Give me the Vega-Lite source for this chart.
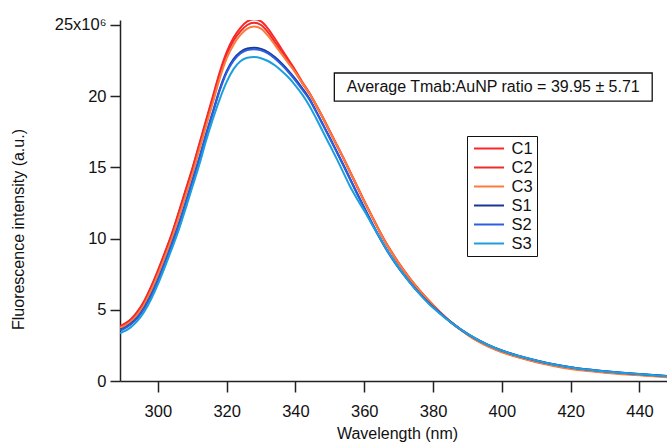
{
  "$schema": "https://vega.github.io/schema/vega-lite/v6.json",
  "autosize": "none",
  "width": 547,
  "height": 361,
  "padding": {"left": 120, "top": 20, "right": 0, "bottom": 62},
  "background": "white",
  "config": {
    "view": {"stroke": null},
    "font": "Liberation Sans",
    "axis": {"grid": false, "domainColor": "#222", "tickColor": "#222", "domainWidth": 1.5, "tickWidth": 1.5, "labelColor": "#111", "titleColor": "#111", "labelFont": "Liberation Sans", "titleFont": "Liberation Sans", "labelFontSize": 16.5, "titleFontSize": 16, "titleFontWeight": "normal"}
  },
  "datasets": {
    "spectra": [
      {"w":289,"C1":3.85,"C2":3.82,"C3":3.73,"S1":3.6,"S2":3.55,"S3":3.35},
      {"w":290,"C1":3.97,"C2":3.93,"C3":3.84,"S1":3.7,"S2":3.65,"S3":3.46},
      {"w":292,"C1":4.3,"C2":4.26,"C3":4.15,"S1":4.0,"S2":3.95,"S3":3.75},
      {"w":294,"C1":4.85,"C2":4.8,"C3":4.65,"S1":4.45,"S2":4.4,"S3":4.2},
      {"w":296,"C1":5.6,"C2":5.55,"C3":5.35,"S1":5.12,"S2":5.07,"S3":4.85},
      {"w":298,"C1":6.6,"C2":6.55,"C3":6.32,"S1":6.02,"S2":5.97,"S3":5.72},
      {"w":300,"C1":7.75,"C2":7.7,"C3":7.45,"S1":7.1,"S2":7.05,"S3":6.78},
      {"w":302,"C1":9.0,"C2":8.95,"C3":8.68,"S1":8.3,"S2":8.25,"S3":7.98},
      {"w":304,"C1":10.3,"C2":10.25,"C3":9.95,"S1":9.58,"S2":9.53,"S3":9.25},
      {"w":306,"C1":11.8,"C2":11.75,"C3":11.42,"S1":10.95,"S2":10.9,"S3":10.55},
      {"w":308,"C1":13.35,"C2":13.3,"C3":12.95,"S1":12.45,"S2":12.4,"S3":12.05},
      {"w":310,"C1":14.9,"C2":14.85,"C3":14.48,"S1":14.0,"S2":13.95,"S3":13.6},
      {"w":312,"C1":16.6,"C2":16.52,"C3":16.18,"S1":15.6,"S2":15.55,"S3":15.15},
      {"w":314,"C1":18.3,"C2":18.2,"C3":17.87,"S1":17.3,"S2":17.25,"S3":16.85},
      {"w":316,"C1":20.0,"C2":19.88,"C3":19.55,"S1":18.9,"S2":18.83,"S3":18.4},
      {"w":318,"C1":21.7,"C2":21.55,"C3":21.25,"S1":20.5,"S2":20.4,"S3":19.8},
      {"w":320,"C1":23.1,"C2":22.92,"C3":22.65,"S1":21.75,"S2":21.65,"S3":21.0},
      {"w":322,"C1":24.1,"C2":23.9,"C3":23.62,"S1":22.6,"S2":22.5,"S3":21.9},
      {"w":324,"C1":24.8,"C2":24.55,"C3":24.3,"S1":23.1,"S2":23.0,"S3":22.45},
      {"w":326,"C1":25.25,"C2":25.0,"C3":24.75,"S1":23.35,"S2":23.25,"S3":22.7},
      {"w":328,"C1":25.4,"C2":25.15,"C3":24.9,"S1":23.4,"S2":23.3,"S3":22.75},
      {"w":330,"C1":25.25,"C2":25.0,"C3":24.75,"S1":23.32,"S2":23.22,"S3":22.67},
      {"w":332,"C1":24.75,"C2":24.5,"C3":24.25,"S1":23.1,"S2":23.0,"S3":22.47},
      {"w":334,"C1":24.05,"C2":23.8,"C3":23.6,"S1":22.75,"S2":22.65,"S3":22.17},
      {"w":336,"C1":23.3,"C2":23.1,"C3":22.95,"S1":22.3,"S2":22.2,"S3":21.77},
      {"w":338,"C1":22.55,"C2":22.4,"C3":22.3,"S1":21.78,"S2":21.68,"S3":21.31},
      {"w":340,"C1":21.8,"C2":21.68,"C3":21.65,"S1":21.2,"S2":21.1,"S3":20.75},
      {"w":342,"C1":21.0,"C2":20.9,"C3":20.92,"S1":20.55,"S2":20.45,"S3":20.11},
      {"w":344,"C1":20.25,"C2":20.2,"C3":20.22,"S1":19.85,"S2":19.78,"S3":19.35},
      {"w":346,"C1":19.4,"C2":19.35,"C3":19.37,"S1":18.95,"S2":18.9,"S3":18.45},
      {"w":348,"C1":18.5,"C2":18.45,"C3":18.47,"S1":18.02,"S2":17.97,"S3":17.5},
      {"w":350,"C1":17.55,"C2":17.5,"C3":17.52,"S1":17.08,"S2":17.03,"S3":16.55},
      {"w":352,"C1":16.6,"C2":16.55,"C3":16.57,"S1":16.12,"S2":16.07,"S3":15.6},
      {"w":354,"C1":15.65,"C2":15.6,"C3":15.62,"S1":15.15,"S2":15.1,"S3":14.6},
      {"w":356,"C1":14.65,"C2":14.6,"C3":14.62,"S1":14.15,"S2":14.1,"S3":13.6},
      {"w":358,"C1":13.65,"C2":13.6,"C3":13.62,"S1":13.15,"S2":13.1,"S3":12.75},
      {"w":360,"C1":12.65,"C2":12.6,"C3":12.62,"S1":12.18,"S2":12.13,"S3":11.95},
      {"w":362,"C1":11.7,"C2":11.65,"C3":11.67,"S1":11.22,"S2":11.17,"S3":11.1},
      {"w":364,"C1":10.75,"C2":10.7,"C3":10.72,"S1":10.3,"S2":10.25,"S3":10.3},
      {"w":366,"C1":9.85,"C2":9.8,"C3":9.82,"S1":9.45,"S2":9.4,"S3":9.45},
      {"w":368,"C1":9.05,"C2":9.0,"C3":9.02,"S1":8.68,"S2":8.63,"S3":8.68},
      {"w":370,"C1":8.3,"C2":8.25,"C3":8.27,"S1":7.97,"S2":7.93,"S3":7.97},
      {"w":373,"C1":7.3,"C2":7.25,"C3":7.27,"S1":7.02,"S2":7.0,"S3":7.0},
      {"w":376,"C1":6.4,"C2":6.35,"C3":6.37,"S1":6.17,"S2":6.15,"S3":6.13},
      {"w":379,"C1":5.6,"C2":5.55,"C3":5.57,"S1":5.42,"S2":5.4,"S3":5.37},
      {"w":382,"C1":4.85,"C2":4.8,"C3":4.82,"S1":4.78,"S2":4.77,"S3":4.73},
      {"w":385,"C1":4.2,"C2":4.15,"C3":4.17,"S1":4.17,"S2":4.16,"S3":4.15},
      {"w":388,"C1":3.63,"C2":3.6,"C3":3.6,"S1":3.63,"S2":3.63,"S3":3.62},
      {"w":392,"C1":2.98,"C2":2.95,"C3":2.92,"S1":3.03,"S2":3.03,"S3":3.02},
      {"w":396,"C1":2.48,"C2":2.45,"C3":2.42,"S1":2.54,"S2":2.54,"S3":2.53},
      {"w":400,"C1":2.08,"C2":2.05,"C3":2.02,"S1":2.14,"S2":2.14,"S3":2.13},
      {"w":405,"C1":1.7,"C2":1.67,"C3":1.64,"S1":1.76,"S2":1.76,"S3":1.75},
      {"w":410,"C1":1.38,"C2":1.35,"C3":1.32,"S1":1.44,"S2":1.44,"S3":1.43},
      {"w":415,"C1":1.12,"C2":1.1,"C3":1.06,"S1":1.17,"S2":1.17,"S3":1.16},
      {"w":420,"C1":0.91,"C2":0.89,"C3":0.85,"S1":0.96,"S2":0.96,"S3":0.95},
      {"w":425,"C1":0.76,"C2":0.74,"C3":0.7,"S1":0.8,"S2":0.8,"S3":0.79},
      {"w":430,"C1":0.64,"C2":0.62,"C3":0.58,"S1":0.68,"S2":0.68,"S3":0.67},
      {"w":435,"C1":0.54,"C2":0.52,"C3":0.48,"S1":0.58,"S2":0.58,"S3":0.57},
      {"w":440,"C1":0.46,"C2":0.44,"C3":0.4,"S1":0.49,"S2":0.49,"S3":0.48},
      {"w":444,"C1":0.39,"C2":0.37,"C3":0.34,"S1":0.42,"S2":0.42,"S3":0.41},
      {"w":448,"C1":0.32,"C2":0.31,"C3":0.27,"S1":0.35,"S2":0.35,"S3":0.34}
    ],
    "note": [
      {"x1": 351.3, "x2": 443.7, "y1": 19.66, "y2": 21.63, "xm": 397.5, "ym": 20.62, "label": "Average Tmab:AuNP ratio = 39.95 ± 5.71"}
    ]
  },
  "layer": [
    {
      "data": {"name": "spectra"},
      "transform": [{"fold": ["C1", "C2", "C3", "S1", "S2", "S3"], "as": ["series", "v"]}],
      "mark": {"type": "line", "strokeWidth": 2, "interpolate": "monotone", "clip": true},
      "encoding": {
        "x": {"field": "w", "type": "quantitative",
              "scale": {"domain": [289, 448], "nice": false, "zero": false},
              "axis": {"values": [300, 320, 340, 360, 380, 400, 420, 440], "tickSize": 11, "labelPadding": 11, "title": "Wavelength (nm)", "titleX": 277, "titleY": 57, "titleBaseline": "alphabetic", "labelFlush": false}},
        "y": {"field": "v", "type": "quantitative",
              "scale": {"domain": [0, 25.35], "nice": false},
              "axis": {"values": [0, 5, 10, 15, 20, 25], "tickSize": 10, "labelPadding": 4, "labelExpr": "datum.value == 25 ? '25x10⁶' : datum.label", "title": "Fluorescence intensity (a.u.)", "titleX": -102, "titleY": 209, "titleBaseline": "middle", "titleAngle": 270, "labelFlush": false}},
        "color": {"field": "series", "type": "nominal",
                  "scale": {"domain": ["C1", "C2", "C3", "S1", "S2", "S3"], "range": ["#ff2626", "#ef2b2b", "#fb7a3c", "#1b3796", "#2b5fe0", "#1c9fdc"]},
                  "legend": {"title": null, "orient": "none", "legendX": 347, "legendY": 116, "strokeColor": "#111", "fillColor": "white", "padding": 4, "symbolType": "M-2,0H2", "symbolSize": 225, "symbolStrokeWidth": 2, "symbolOffset": 9.5, "labelFontSize": 16.5, "labelFont": "Liberation Sans", "labelColor": "#111", "labelOffset": 14, "rowPadding": 2}}
      }
    },
    {
      "data": {"name": "note"},
      "mark": {"type": "rect", "fill": "white", "stroke": "#111", "strokeWidth": 1.3},
      "encoding": {
        "x": {"field": "x1", "type": "quantitative"},
        "x2": {"field": "x2"},
        "y": {"field": "y1", "type": "quantitative"},
        "y2": {"field": "y2"}
      }
    },
    {
      "data": {"name": "note"},
      "mark": {"type": "text", "font": "Liberation Sans", "fontSize": 16, "color": "#111", "align": "center", "baseline": "middle"},
      "encoding": {
        "x": {"field": "xm", "type": "quantitative"},
        "y": {"field": "ym", "type": "quantitative"},
        "text": {"field": "label"}
      }
    }
  ]
}
